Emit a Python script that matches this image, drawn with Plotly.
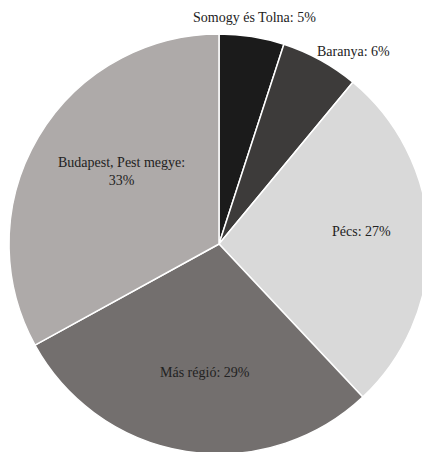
import math
import plotly.graph_objects as go

labels = ["Somogy és Tolna", "Baranya", "Pécs", "Más régió", "Budapest, Pest megye"]
values = [5, 6, 27, 29, 33]
text_labels = ["Somogy és Tolna: 5%", "Baranya: 6%", "Pécs: 27%", "Más régió: 29%", "Budapest, Pest megye:<br>33%"]
colors = ["#1b1b1b", "#3d3b3a", "#d9d9d9", "#736f6e", "#aeaaa9"]

# label placement style (radius as fraction of pie radius, anchor, pixel nudges)
label_radius = [1.09, 1.045, 0.63, 0.62, 0.60]
label_anchor = ["center", "left", "center", "center", "center"]
label_xshift = [0, -10, 10, 6, 11]
label_yshift = [0, 0, 8, 0, 8]

fig = go.Figure(go.Pie(
    labels=labels,
    values=values,
    textinfo="none",
    sort=False,
    direction="clockwise",
    rotation=0,
    marker=dict(colors=colors, line=dict(color="white", width=1.5)),
    showlegend=False,
    hoverinfo="skip",
    domain=dict(x=[0, 1], y=[0, 1]),
))

total = sum(values)
cum = 0
annotations = []
for val, txt, rf, anc, xs, ys in zip(values, text_labels, label_radius, label_anchor,
                                     label_xshift, label_yshift):
    mid = (cum + val / 2) / total * 2 * math.pi
    cum += val
    annotations.append(dict(
        x=0.5 + 0.5 * rf * math.sin(mid),
        y=0.5 + 0.5 * rf * math.cos(mid),
        xref="paper", yref="paper",
        text=txt, showarrow=False,
        xanchor=anc, yanchor="middle",
        xshift=xs, yshift=ys,
        align="center",
        font=dict(family="Liberation Serif", size=14, color="#222222"),
    ))

fig.update_layout(
    width=440, height=460,
    margin=dict(l=9, r=11, t=34, b=6),
    paper_bgcolor="white",
    plot_bgcolor="white",
    annotations=annotations,
)

fig.write_html("out.html")
